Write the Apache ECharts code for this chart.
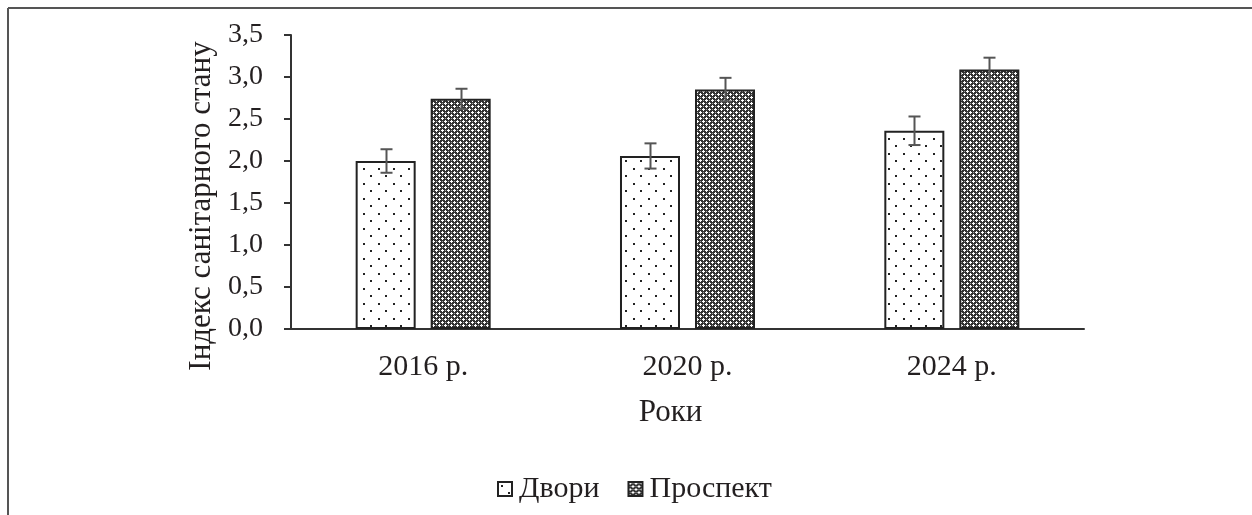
<!DOCTYPE html>
<html>
<head>
<meta charset="utf-8">
<script src="https://cdn.jsdelivr.net/npm/echarts@6/dist/echarts.min.js"></script>
<style>
  html, body { margin: 0; padding: 0; background: #fff; }
  #show { width: 1252px; height: 515px; }
</style>
</head>
<body>
<div id="show"></div>
<script>
// дані з рисунка
var years = ['2016 р.', '2020 р.', '2024 р.'];
var dvory = [2.00, 2.06, 2.36];
var dvoryErr = [0.14, 0.15, 0.17];
var prospekt = [2.74, 2.85, 3.09];
var prospektErr = [0.12, 0.14, 0.14];
var yTicks = [0, 0.5, 1, 1.5, 2, 2.5, 3, 3.5];

var FONT = '"Liberation Serif", "DejaVu Serif", serif';
var INK = '#231f20';
var BAR_W = 0.227;   // частка ширини категорії
var BAR_GAP = 0.25;  // проміжок між стовпчиками

// візерунок "Двори" - рідкі крапки
function dotPattern() {
  var c = document.createElement('canvas');
  c.width = 15; c.height = 15;
  var ctx = c.getContext('2d');
  ctx.fillStyle = '#fff';
  ctx.fillRect(0, 0, 15, 15);
  ctx.fillStyle = '#222';
  ctx.fillRect(3, 3, 2, 2);
  ctx.fillRect(10, 10, 2, 2);
  return c;
}

// візерунок "Проспект" - щільна сітка з білими хрестиками
function crossPattern() {
  var c = document.createElement('canvas');
  c.width = 6; c.height = 6;
  var ctx = c.getContext('2d');
  ctx.fillStyle = '#333';
  ctx.fillRect(0, 0, 6, 6);
  ctx.fillStyle = '#fff';
  [[1,0],[0,1],[1,1],[2,1],[1,2],[4,3],[3,4],[4,4],[5,4],[4,5]].forEach(function (p) {
    ctx.fillRect(p[0], p[1], 1, 1);
  });
  ctx.fillStyle = '#a0a0a0';
  ctx.fillRect(4, 1, 1, 1);
  ctx.fillRect(1, 4, 1, 1);
  return c;
}

// похибки для обох серій
function errData(vals, errs) {
  return vals.map(function (v, i) { return [i, v - errs[i], v + errs[i]]; });
}

function errRender(side) {
  return function (params, api) {
    var band = api.size([1, 0])[0];
    var barW = band * BAR_W;
    var off = side * barW * (1 + BAR_GAP) / 2;
    var lo = api.coord([api.value(0), api.value(1)]);
    var hi = api.coord([api.value(0), api.value(2)]);
    var x = Math.round(lo[0] + off) + 0.5;
    var cap = 6;
    var st = { stroke: '#555', lineWidth: 2 };
    return {
      type: 'group',
      children: [
        { type: 'line', shape: { x1: x, y1: hi[1], x2: x, y2: lo[1] }, style: st },
        { type: 'line', shape: { x1: x - cap, y1: hi[1], x2: x + cap, y2: hi[1] }, style: st },
        { type: 'line', shape: { x1: x - cap, y1: lo[1], x2: x + cap, y2: lo[1] }, style: st }
      ]
    };
  };
}

var myChart = echarts.init(document.getElementById('show'));
var dotFill = { image: dotPattern(), repeat: 'repeat' };
var crossFill = { image: crossPattern(), repeat: 'repeat' };

myChart.setOption({
  animation: false,
  backgroundColor: '#fff',
  textStyle: { fontFamily: FONT, color: INK },
  graphic: [
    { type: 'line', shape: { x1: 8, y1: 8, x2: 1252, y2: 8 }, style: { stroke: '#555', lineWidth: 2 } },
    { type: 'line', shape: { x1: 8, y1: 8, x2: 8, y2: 515 }, style: { stroke: '#555', lineWidth: 2 } }
  ],
  grid: { left: 291, right: 168, top: 35, bottom: 186 },
  legend: {
    data: ['Двори', 'Проспект'],
    bottom: 6,
    left: 492,
    icon: 'rect',
    itemWidth: 14,
    itemHeight: 14,
    itemGap: 28,
    textStyle: { fontFamily: FONT, fontSize: 30, color: INK, padding: [0, 0, 0, 2] }
  },
  xAxis: {
    type: 'category',
    data: years,
    name: 'Роки',
    nameLocation: 'middle',
    nameGap: 68,
    nameTextStyle: { fontFamily: FONT, fontSize: 31, color: INK, padding: [0, 34, 0, 0] },
    axisLine: { lineStyle: { color: '#333', width: 2 } },
    axisTick: { show: false },
    axisLabel: { margin: 23, fontFamily: FONT, fontSize: 30, color: INK }
  },
  yAxis: {
    type: 'value',
    min: 0,
    max: 3.5,
    interval: 0.5,
    name: 'Індекс санітарного стану',
    nameLocation: 'middle',
    nameGap: 72,
    nameTextStyle: { fontFamily: FONT, fontSize: 31, color: INK, padding: [0, 48, 0, 0] },
    axisLine: { show: true, lineStyle: { color: '#333', width: 2 } },
    axisTick: { show: true, length: 7, lineStyle: { color: '#333', width: 2 } },
    splitLine: { show: false },
    axisLabel: {
      margin: 28,
      fontFamily: FONT,
      fontSize: 28,
      color: INK,
      formatter: function (v) {
        return yTicks.indexOf(v) >= 0 ? v.toFixed(1).replace('.', ',') : '';
      }
    }
  },
  series: [
    {
      name: 'Двори',
      type: 'bar',
      data: dvory,
      barWidth: (BAR_W * 100) + '%',
      barGap: (BAR_GAP * 100) + '%',
      itemStyle: { color: dotFill, borderColor: '#222', borderWidth: 2 }
    },
    {
      name: 'Проспект',
      type: 'bar',
      data: prospekt,
      barWidth: (BAR_W * 100) + '%',
      itemStyle: { color: crossFill, borderColor: '#222', borderWidth: 2 }
    },
    {
      type: 'custom',
      name: 'errDvory',
      renderItem: errRender(-1),
      data: errData(dvory, dvoryErr),
      encode: { x: 0, y: [1, 2] },
      z: 10
    },
    {
      type: 'custom',
      name: 'errProspekt',
      renderItem: errRender(1),
      data: errData(prospekt, prospektErr),
      encode: { x: 0, y: [1, 2] },
      z: 10
    }
  ]
});
</script>
</body>
</html>
